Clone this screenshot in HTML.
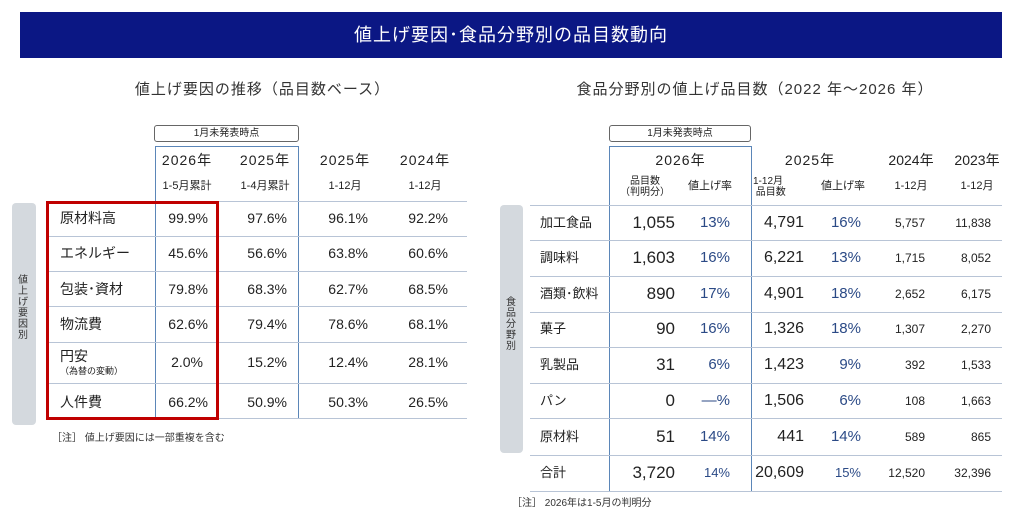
<!DOCTYPE html>
<html><head><meta charset="utf-8"><style>
*{margin:0;padding:0;box-sizing:border-box}
body{width:1024px;height:516px;background:#fff;position:relative;overflow:hidden;font-family:"Liberation Sans","Noto Sans CJK JP",sans-serif;color:#222}
.a{position:absolute;white-space:nowrap;line-height:1}
.c{text-align:center}
.r{text-align:right}
.hl{position:absolute;height:1px;background:#b8c4d6}
.b{color:#2b4a86}
</style></head><body>
<div class="a c" style="left:20px;top:12px;width:982px;height:46px;background:#0b1784;color:#fff;font-size:18px;line-height:46px;letter-spacing:1px">値上げ要因･食品分野別の品目数動向</div>

<div class="a c" style="left:90px;top:82px;width:345px;font-size:15px;color:#333;letter-spacing:1px">値上げ要因の推移（品目数ベース）</div>
<div class="a c" style="left:530px;top:82px;width:450px;font-size:15px;color:#333;letter-spacing:1px">食品分野別の値上げ品目数（2022 年～2026 年）</div>

<!-- LEFT TABLE -->
<div class="a c" style="left:154px;top:125px;width:145px;height:17px;border:1px solid #666;border-radius:3px;font-size:10px;line-height:15px">1月未発表時点</div>
<div class="a" style="left:155px;top:146px;width:144px;height:273px;border:1px solid #5b86b8"></div>
<div class="a" style="left:12px;top:203px;width:24px;height:222px;background:#d4d9de;border-radius:4px"></div>
<div class="a" style="left:18px;top:275px;width:12px;font-size:10px;line-height:11px;white-space:normal;color:#333">値上げ要因別</div>
<div class="hl" style="left:47px;top:201px;width:420px"></div>
<div class="hl" style="left:47px;top:236px;width:420px"></div>
<div class="hl" style="left:47px;top:271px;width:420px"></div>
<div class="hl" style="left:47px;top:306px;width:420px"></div>
<div class="hl" style="left:47px;top:342px;width:420px"></div>
<div class="hl" style="left:47px;top:383px;width:420px"></div>
<div class="hl" style="left:47px;top:418px;width:420px"></div>
<div class="a" style="left:46px;top:201px;width:173px;height:219px;border:3px solid #c00000"></div>

<div class="a c" style="left:155px;top:153px;width:64px;font-size:14px;letter-spacing:1px">2026年</div>
<div class="a c" style="left:230px;top:153px;width:70px;font-size:14px;letter-spacing:1px">2025年</div>
<div class="a c" style="left:310px;top:153px;width:70px;font-size:14px;letter-spacing:1px">2025年</div>
<div class="a c" style="left:390px;top:153px;width:70px;font-size:14px;letter-spacing:1px">2024年</div>
<div class="a c" style="left:155px;top:181px;width:64px;font-size:11px">1-5月累計</div>
<div class="a c" style="left:230px;top:181px;width:70px;font-size:11px">1-4月累計</div>
<div class="a c" style="left:310px;top:181px;width:70px;font-size:11px">1-12月</div>
<div class="a c" style="left:390px;top:181px;width:70px;font-size:11px">1-12月</div>

<div class="a" style="left:60px;top:211px;font-size:14px">原材料高</div>
<div class="a" style="left:60px;top:246px;font-size:14px">エネルギー</div>
<div class="a" style="left:60px;top:282px;font-size:14px">包装･資材</div>
<div class="a" style="left:60px;top:317px;font-size:14px">物流費</div>
<div class="a" style="left:60px;top:349px;font-size:14px">円安</div>
<div class="a" style="left:60px;top:367px;font-size:9px">（為替の変動）</div>
<div class="a" style="left:60px;top:395px;font-size:14px">人件費</div>

<div class="a r" style="left:150px;top:211px;width:58px;font-size:14px">99.9%</div>
<div class="a r" style="left:230px;top:211px;width:57px;font-size:14px">97.6%</div>
<div class="a r" style="left:310px;top:211px;width:58px;font-size:14px">96.1%</div>
<div class="a r" style="left:390px;top:211px;width:58px;font-size:14px">92.2%</div>
<div class="a r" style="left:150px;top:246px;width:58px;font-size:14px">45.6%</div>
<div class="a r" style="left:230px;top:246px;width:57px;font-size:14px">56.6%</div>
<div class="a r" style="left:310px;top:246px;width:58px;font-size:14px">63.8%</div>
<div class="a r" style="left:390px;top:246px;width:58px;font-size:14px">60.6%</div>
<div class="a r" style="left:150px;top:282px;width:58px;font-size:14px">79.8%</div>
<div class="a r" style="left:230px;top:282px;width:57px;font-size:14px">68.3%</div>
<div class="a r" style="left:310px;top:282px;width:58px;font-size:14px">62.7%</div>
<div class="a r" style="left:390px;top:282px;width:58px;font-size:14px">68.5%</div>
<div class="a r" style="left:150px;top:317px;width:58px;font-size:14px">62.6%</div>
<div class="a r" style="left:230px;top:317px;width:57px;font-size:14px">79.4%</div>
<div class="a r" style="left:310px;top:317px;width:58px;font-size:14px">78.6%</div>
<div class="a r" style="left:390px;top:317px;width:58px;font-size:14px">68.1%</div>
<div class="a r" style="left:150px;top:355px;width:53px;font-size:14px">2.0%</div>
<div class="a r" style="left:230px;top:355px;width:57px;font-size:14px">15.2%</div>
<div class="a r" style="left:310px;top:355px;width:58px;font-size:14px">12.4%</div>
<div class="a r" style="left:390px;top:355px;width:58px;font-size:14px">28.1%</div>
<div class="a r" style="left:150px;top:395px;width:58px;font-size:14px">66.2%</div>
<div class="a r" style="left:230px;top:395px;width:57px;font-size:14px">50.9%</div>
<div class="a r" style="left:310px;top:395px;width:58px;font-size:14px">50.3%</div>
<div class="a r" style="left:390px;top:395px;width:58px;font-size:14px">26.5%</div>
<div class="a" style="left:52px;top:434px;font-size:10px;color:#333">［注］ 値上げ要因には一部重複を含む</div>

<!-- RIGHT TABLE -->
<div class="a c" style="left:609px;top:125px;width:142px;height:17px;border:1px solid #666;border-radius:3px;font-size:10px;line-height:15px">1月未発表時点</div>
<div class="a" style="left:609px;top:146px;width:143px;height:346px;border:1px solid #5b86b8"></div>
<div class="a" style="left:500px;top:205px;width:23px;height:248px;background:#d4d9de;border-radius:4px"></div>
<div class="a" style="left:506px;top:297px;width:12px;font-size:10px;line-height:11px;white-space:normal;color:#333">食品分野別</div>
<div class="hl" style="left:530px;top:205px;width:472px"></div>
<div class="hl" style="left:530px;top:240px;width:472px"></div>
<div class="hl" style="left:530px;top:276px;width:472px"></div>
<div class="hl" style="left:530px;top:312px;width:472px"></div>
<div class="hl" style="left:530px;top:347px;width:472px"></div>
<div class="hl" style="left:530px;top:383px;width:472px"></div>
<div class="hl" style="left:530px;top:418px;width:472px"></div>
<div class="hl" style="left:530px;top:455px;width:472px"></div>
<div class="hl" style="left:530px;top:491px;width:472px"></div>

<div class="a c" style="left:610px;top:153px;width:141px;font-size:14px;letter-spacing:1px">2026年</div>
<div class="a c" style="left:770px;top:153px;width:80px;font-size:14px;letter-spacing:1px">2025年</div>
<div class="a c" style="left:880px;top:153px;width:62px;font-size:14px">2024年</div>
<div class="a c" style="left:946px;top:153px;width:62px;font-size:14px">2023年</div>
<div class="a c" style="left:615px;top:176px;width:60px;font-size:10px;line-height:11px">品目数<br>（判明分）</div>
<div class="a c" style="left:680px;top:181px;width:60px;font-size:11px">値上げ率</div>
<div class="a" style="left:753px;top:176px;font-size:10px;line-height:11px">1-12月<br>&nbsp;品目数</div>
<div class="a c" style="left:813px;top:181px;width:60px;font-size:11px">値上げ率</div>
<div class="a c" style="left:880px;top:181px;width:62px;font-size:11px">1-12月</div>
<div class="a c" style="left:946px;top:181px;width:62px;font-size:11px">1-12月</div>

<div class="a" style="left:540px;top:216px;font-size:13px">加工食品</div>
<div class="a" style="left:540px;top:251px;font-size:13px">調味料</div>
<div class="a" style="left:540px;top:287px;font-size:13px">酒類･飲料</div>
<div class="a" style="left:540px;top:322px;font-size:13px">菓子</div>
<div class="a" style="left:540px;top:358px;font-size:13px">乳製品</div>
<div class="a" style="left:540px;top:394px;font-size:13px">パン</div>
<div class="a" style="left:540px;top:430px;font-size:13px">原材料</div>
<div class="a" style="left:540px;top:466px;font-size:13px">合計</div>

<div class="a r" style="left:600px;top:214px;width:75px;font-size:17px">1,055</div>
<div class="a r" style="left:600px;top:249px;width:75px;font-size:17px">1,603</div>
<div class="a r" style="left:600px;top:285px;width:75px;font-size:17px">890</div>
<div class="a r" style="left:600px;top:320px;width:75px;font-size:17px">90</div>
<div class="a r" style="left:600px;top:356px;width:75px;font-size:17px">31</div>
<div class="a r" style="left:600px;top:392px;width:75px;font-size:17px">0</div>
<div class="a r" style="left:600px;top:428px;width:75px;font-size:17px">51</div>
<div class="a r" style="left:600px;top:464px;width:75px;font-size:17px">3,720</div>

<div class="a r b" style="left:680px;top:215px;width:50px;font-size:15px">13%</div>
<div class="a r b" style="left:680px;top:250px;width:50px;font-size:15px">16%</div>
<div class="a r b" style="left:680px;top:286px;width:50px;font-size:15px">17%</div>
<div class="a r b" style="left:680px;top:321px;width:50px;font-size:15px">16%</div>
<div class="a r b" style="left:680px;top:357px;width:50px;font-size:15px">6%</div>
<div class="a r b" style="left:680px;top:393px;width:50px;font-size:15px">—%</div>
<div class="a r b" style="left:680px;top:429px;width:50px;font-size:15px">14%</div>
<div class="a r b" style="left:680px;top:466px;width:50px;font-size:13px">14%</div>

<div class="a r" style="left:740px;top:215px;width:64px;font-size:16px">4,791</div>
<div class="a r" style="left:740px;top:250px;width:64px;font-size:16px">6,221</div>
<div class="a r" style="left:740px;top:286px;width:64px;font-size:16px">4,901</div>
<div class="a r" style="left:740px;top:321px;width:64px;font-size:16px">1,326</div>
<div class="a r" style="left:740px;top:357px;width:64px;font-size:16px">1,423</div>
<div class="a r" style="left:740px;top:393px;width:64px;font-size:16px">1,506</div>
<div class="a r" style="left:740px;top:429px;width:64px;font-size:16px">441</div>
<div class="a r" style="left:740px;top:465px;width:64px;font-size:16px">20,609</div>

<div class="a r b" style="left:810px;top:215px;width:51px;font-size:15px">16%</div>
<div class="a r b" style="left:810px;top:250px;width:51px;font-size:15px">13%</div>
<div class="a r b" style="left:810px;top:286px;width:51px;font-size:15px">18%</div>
<div class="a r b" style="left:810px;top:321px;width:51px;font-size:15px">18%</div>
<div class="a r b" style="left:810px;top:357px;width:51px;font-size:15px">9%</div>
<div class="a r b" style="left:810px;top:393px;width:51px;font-size:15px">6%</div>
<div class="a r b" style="left:810px;top:429px;width:51px;font-size:15px">14%</div>
<div class="a r b" style="left:810px;top:466px;width:51px;font-size:13px">15%</div>

<div class="a r" style="left:870px;top:217px;width:55px;font-size:12px">5,757</div>
<div class="a r" style="left:870px;top:252px;width:55px;font-size:12px">1,715</div>
<div class="a r" style="left:870px;top:288px;width:55px;font-size:12px">2,652</div>
<div class="a r" style="left:870px;top:323px;width:55px;font-size:12px">1,307</div>
<div class="a r" style="left:870px;top:359px;width:55px;font-size:12px">392</div>
<div class="a r" style="left:870px;top:395px;width:55px;font-size:12px">108</div>
<div class="a r" style="left:870px;top:431px;width:55px;font-size:12px">589</div>
<div class="a r" style="left:870px;top:467px;width:55px;font-size:12px">12,520</div>

<div class="a r" style="left:936px;top:217px;width:55px;font-size:12px">11,838</div>
<div class="a r" style="left:936px;top:252px;width:55px;font-size:12px">8,052</div>
<div class="a r" style="left:936px;top:288px;width:55px;font-size:12px">6,175</div>
<div class="a r" style="left:936px;top:323px;width:55px;font-size:12px">2,270</div>
<div class="a r" style="left:936px;top:359px;width:55px;font-size:12px">1,533</div>
<div class="a r" style="left:936px;top:395px;width:55px;font-size:12px">1,663</div>
<div class="a r" style="left:936px;top:431px;width:55px;font-size:12px">865</div>
<div class="a r" style="left:936px;top:467px;width:55px;font-size:12px">32,396</div>

<div class="a" style="left:512px;top:499px;font-size:10px;color:#333">［注］ 2026年は1-5月の判明分</div>
</body></html>
